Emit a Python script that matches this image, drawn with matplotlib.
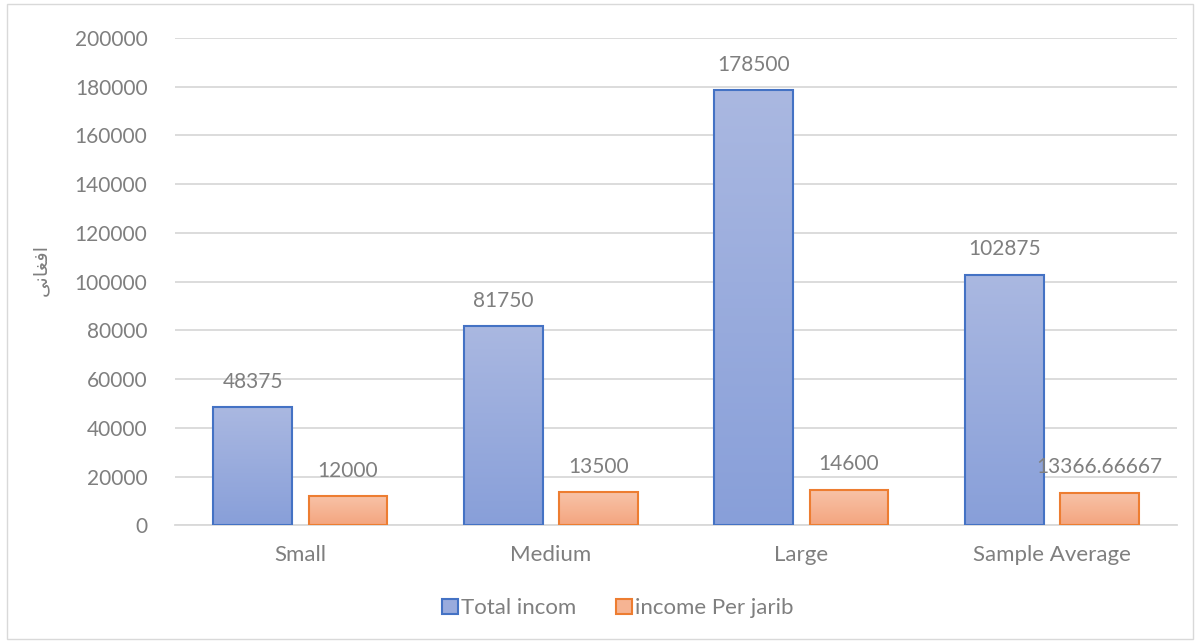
import numpy as np
import matplotlib.pyplot as plt
from matplotlib.patches import Rectangle
import matplotlib.colors as mcolors

categories = ["Small", "Medium", "Large", "Sample Average"]
total_income = [48375, 81750, 178500, 102875]
income_per_jarib = [12000, 13500, 14600, 13366.66667]
total_labels = ["48375", "81750", "178500", "102875"]
jarib_labels = ["12000", "13500", "14600", "13366.66667"]
yticks = list(range(0, 200001, 20000))
series_names = ["Total incom", "income Per jarib"]
# "افغانی" pre-shaped (presentation forms, visual order) since matplotlib doesn't shape Arabic
ylabel = "\uFBFD\uFEE7\uFE8E\uFED0\uFED3\uFE8D"

plt.rcParams['font.family'] = ['Lato', 'DejaVu Sans']
gray = "#7F7F7F"

fig = plt.figure(figsize=(12, 6.43), dpi=100)
ax = fig.add_axes([0.146, 0.183, 0.835, 0.758])

x = np.arange(len(categories))
w = 0.315
off = 0.19
b1 = ax.bar(x - off, total_income, w, facecolor="none", edgecolor="#4472C4", lw=1.5, zorder=3)
b2 = ax.bar(x + off, income_per_jarib, w, facecolor="none", edgecolor="#ED7D31", lw=1.5, zorder=3)

def fill_grad(bars, top, bottom):
    cmap = mcolors.LinearSegmentedColormap.from_list("g", [bottom, top])
    grad = np.linspace(0, 1, 256).reshape(-1, 1)
    for b in bars:
        x0, y0 = b.get_x(), b.get_y()
        ax.imshow(grad, cmap=cmap, origin="lower", aspect="auto",
                  extent=[x0, x0 + b.get_width(), y0, y0 + b.get_height()], zorder=2)

fill_grad(b1, "#AAB8E1", "#889FD9")
fill_grad(b2, "#F8C3A8", "#F4A57F")

for bars, labels in [(b1, total_labels), (b2, jarib_labels)]:
    for b, lab in zip(bars, labels):
        ax.annotate(lab, (b.get_x() + b.get_width() / 2, b.get_height()), xytext=(0, 11),
                    textcoords="offset points", ha="center", va="bottom", fontsize=15, color=gray)

ax.set_xlim(-0.5, len(categories) - 0.5)
ax.set_ylim(0, 200000)
ax.set_yticks(yticks)
ax.set_yticklabels([str(t) for t in yticks], fontsize=15, color=gray)
ax.set_xticks(x)
ax.set_xticklabels(categories, fontsize=16, color=gray)
ax.tick_params(axis="x", length=0, pad=14)
ax.tick_params(axis="y", length=0, pad=20)
ax.grid(axis="y", color="#D9D9D9", lw=1.3, zorder=0)
for s in ["top", "right", "left"]:
    ax.spines[s].set_visible(False)
ax.spines["bottom"].set_color("#D9D9D9")
ax.spines["bottom"].set_linewidth(1.3)

fig.text(0.034, 0.58, ylabel, rotation=90, fontsize=14, color=gray,
         ha="center", va="center", family=["DejaVu Sans"])

handles = [Rectangle((0, 0), 1, 1, facecolor="#99ABDD", edgecolor="#4472C4", lw=1.5),
           Rectangle((0, 0), 1, 1, facecolor="#F6B493", edgecolor="#ED7D31", lw=1.5)]
leg = fig.legend(handles, series_names, loc="center", bbox_to_anchor=(0.515, 0.054), ncol=2,
                 frameon=False, fontsize=16, handlelength=0.7, handleheight=0.7,
                 handletextpad=0.15, columnspacing=1.8)
for t in leg.get_texts():
    t.set_color(gray)

fig.patches.append(Rectangle((0.006, 0.006), 0.988, 0.988, transform=fig.transFigure,
                             fill=False, edgecolor="#D9D9D9", lw=1))

fig.savefig("out.png", dpi=100)
